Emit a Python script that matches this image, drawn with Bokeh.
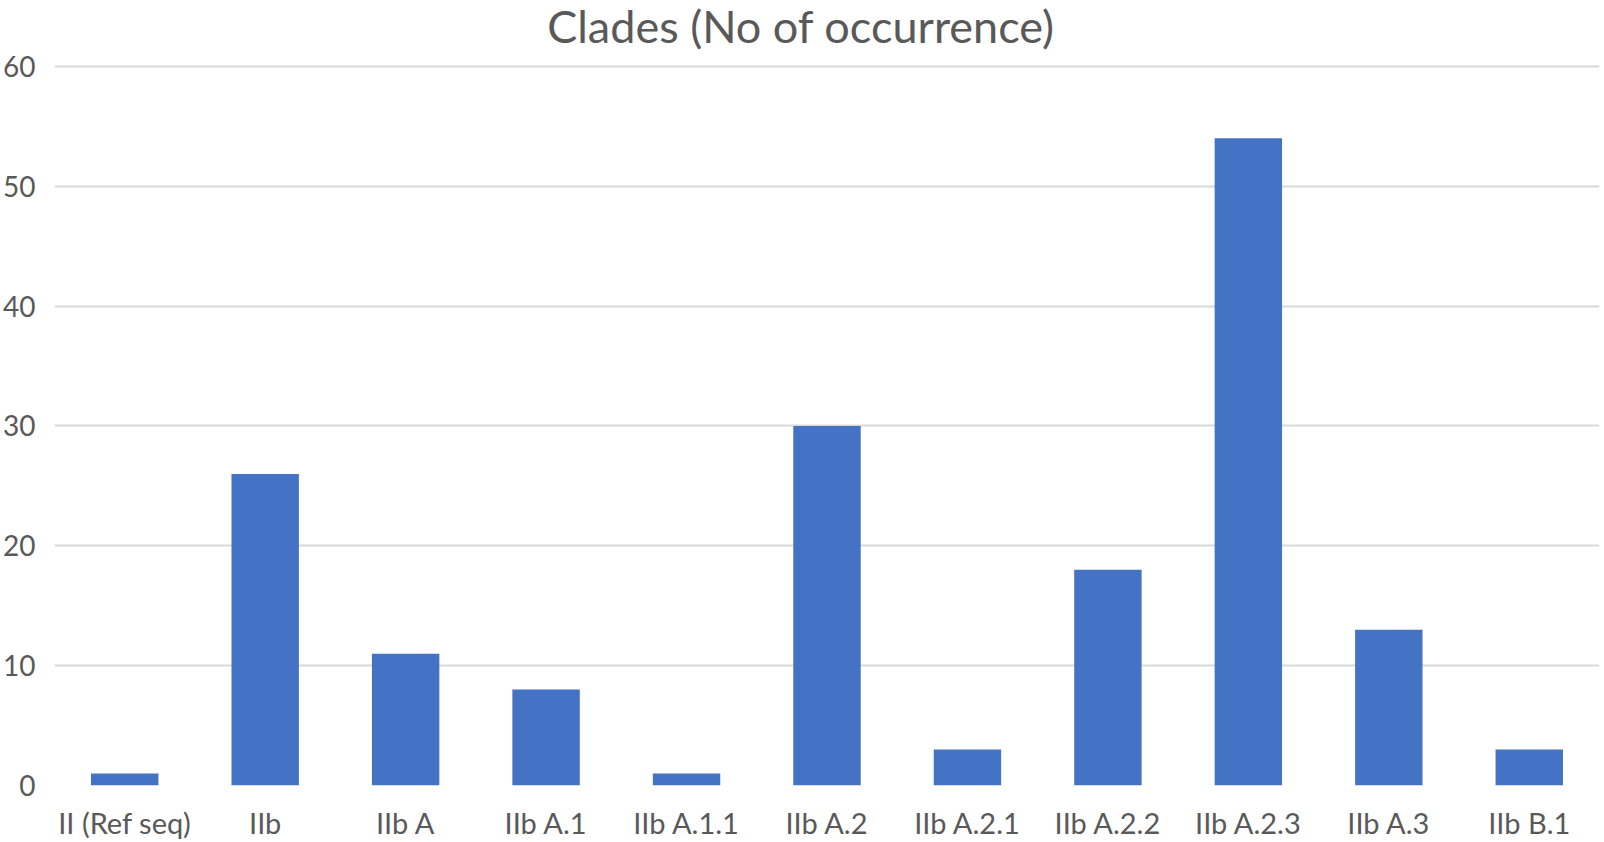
from bokeh.plotting import figure
from bokeh.models import FactorRange, Range1d, ColumnDataSource, SingleIntervalTicker, Label
from bokeh.embed import file_html
from bokeh.resources import INLINE

categories = ["II (Ref seq)", "IIb", "IIb A", "IIb A.1", "IIb A.1.1", "IIb A.2",
              "IIb A.2.1", "IIb A.2.2", "IIb A.2.3", "IIb A.3", "IIb B.1"]
counts = [1, 26, 11, 8, 1, 30, 3, 18, 54, 13, 3]
title_text = "Clades (No of occurrence)"

TEXT = "#595959"
FONT = "Lato"
Y_TOP = 65.5  # axis headroom so the title sits inside the frame area

p = figure(frame_width=1545, frame_height=785, output_backend="svg", toolbar_location=None,
           x_range=FactorRange(*categories, range_padding=0),
           y_range=Range1d(0, Y_TOP),
           min_border_left=53, min_border_right=6, min_border_top=0, min_border_bottom=57)

src = ColumnDataSource(dict(cat=categories, n=counts))
p.vbar(x="cat", top="n", width=0.48, source=src, color="#4472C4", line_color=None)

p.add_layout(Label(x=len(categories) / 2, y=Y_TOP - 25.5 / (785 / Y_TOP), x_offset=-26,
                   text=title_text, text_align="center", text_baseline="alphabetic",
                   text_font=FONT, text_font_size="45px", text_color=TEXT))

p.outline_line_color = None
p.background_fill_color = "white"
p.border_fill_color = "white"

p.xgrid.grid_line_color = None
p.ygrid.grid_line_color = "#D9D9D9"
p.ygrid.grid_line_width = 2
p.yaxis.ticker = SingleIntervalTicker(interval=10)

for ax in (p.xaxis, p.yaxis):
    ax.axis_line_color = None
    ax.major_tick_line_color = None
    ax.minor_tick_line_color = None
    ax.major_tick_out = 0
    ax.major_tick_in = 0
    ax.minor_tick_out = 0
    ax.minor_tick_in = 0
    ax.axis_label_standoff = 0
    ax.major_label_text_font = FONT
    ax.major_label_text_color = TEXT
    ax.major_label_text_font_style = "normal"

p.xaxis.major_label_text_font_size = "29px"
p.xaxis.major_label_standoff = 19
p.yaxis.major_label_text_font_size = "28px"
p.yaxis.major_label_standoff = 19

open("out.html", "w").write(file_html(p, INLINE))
